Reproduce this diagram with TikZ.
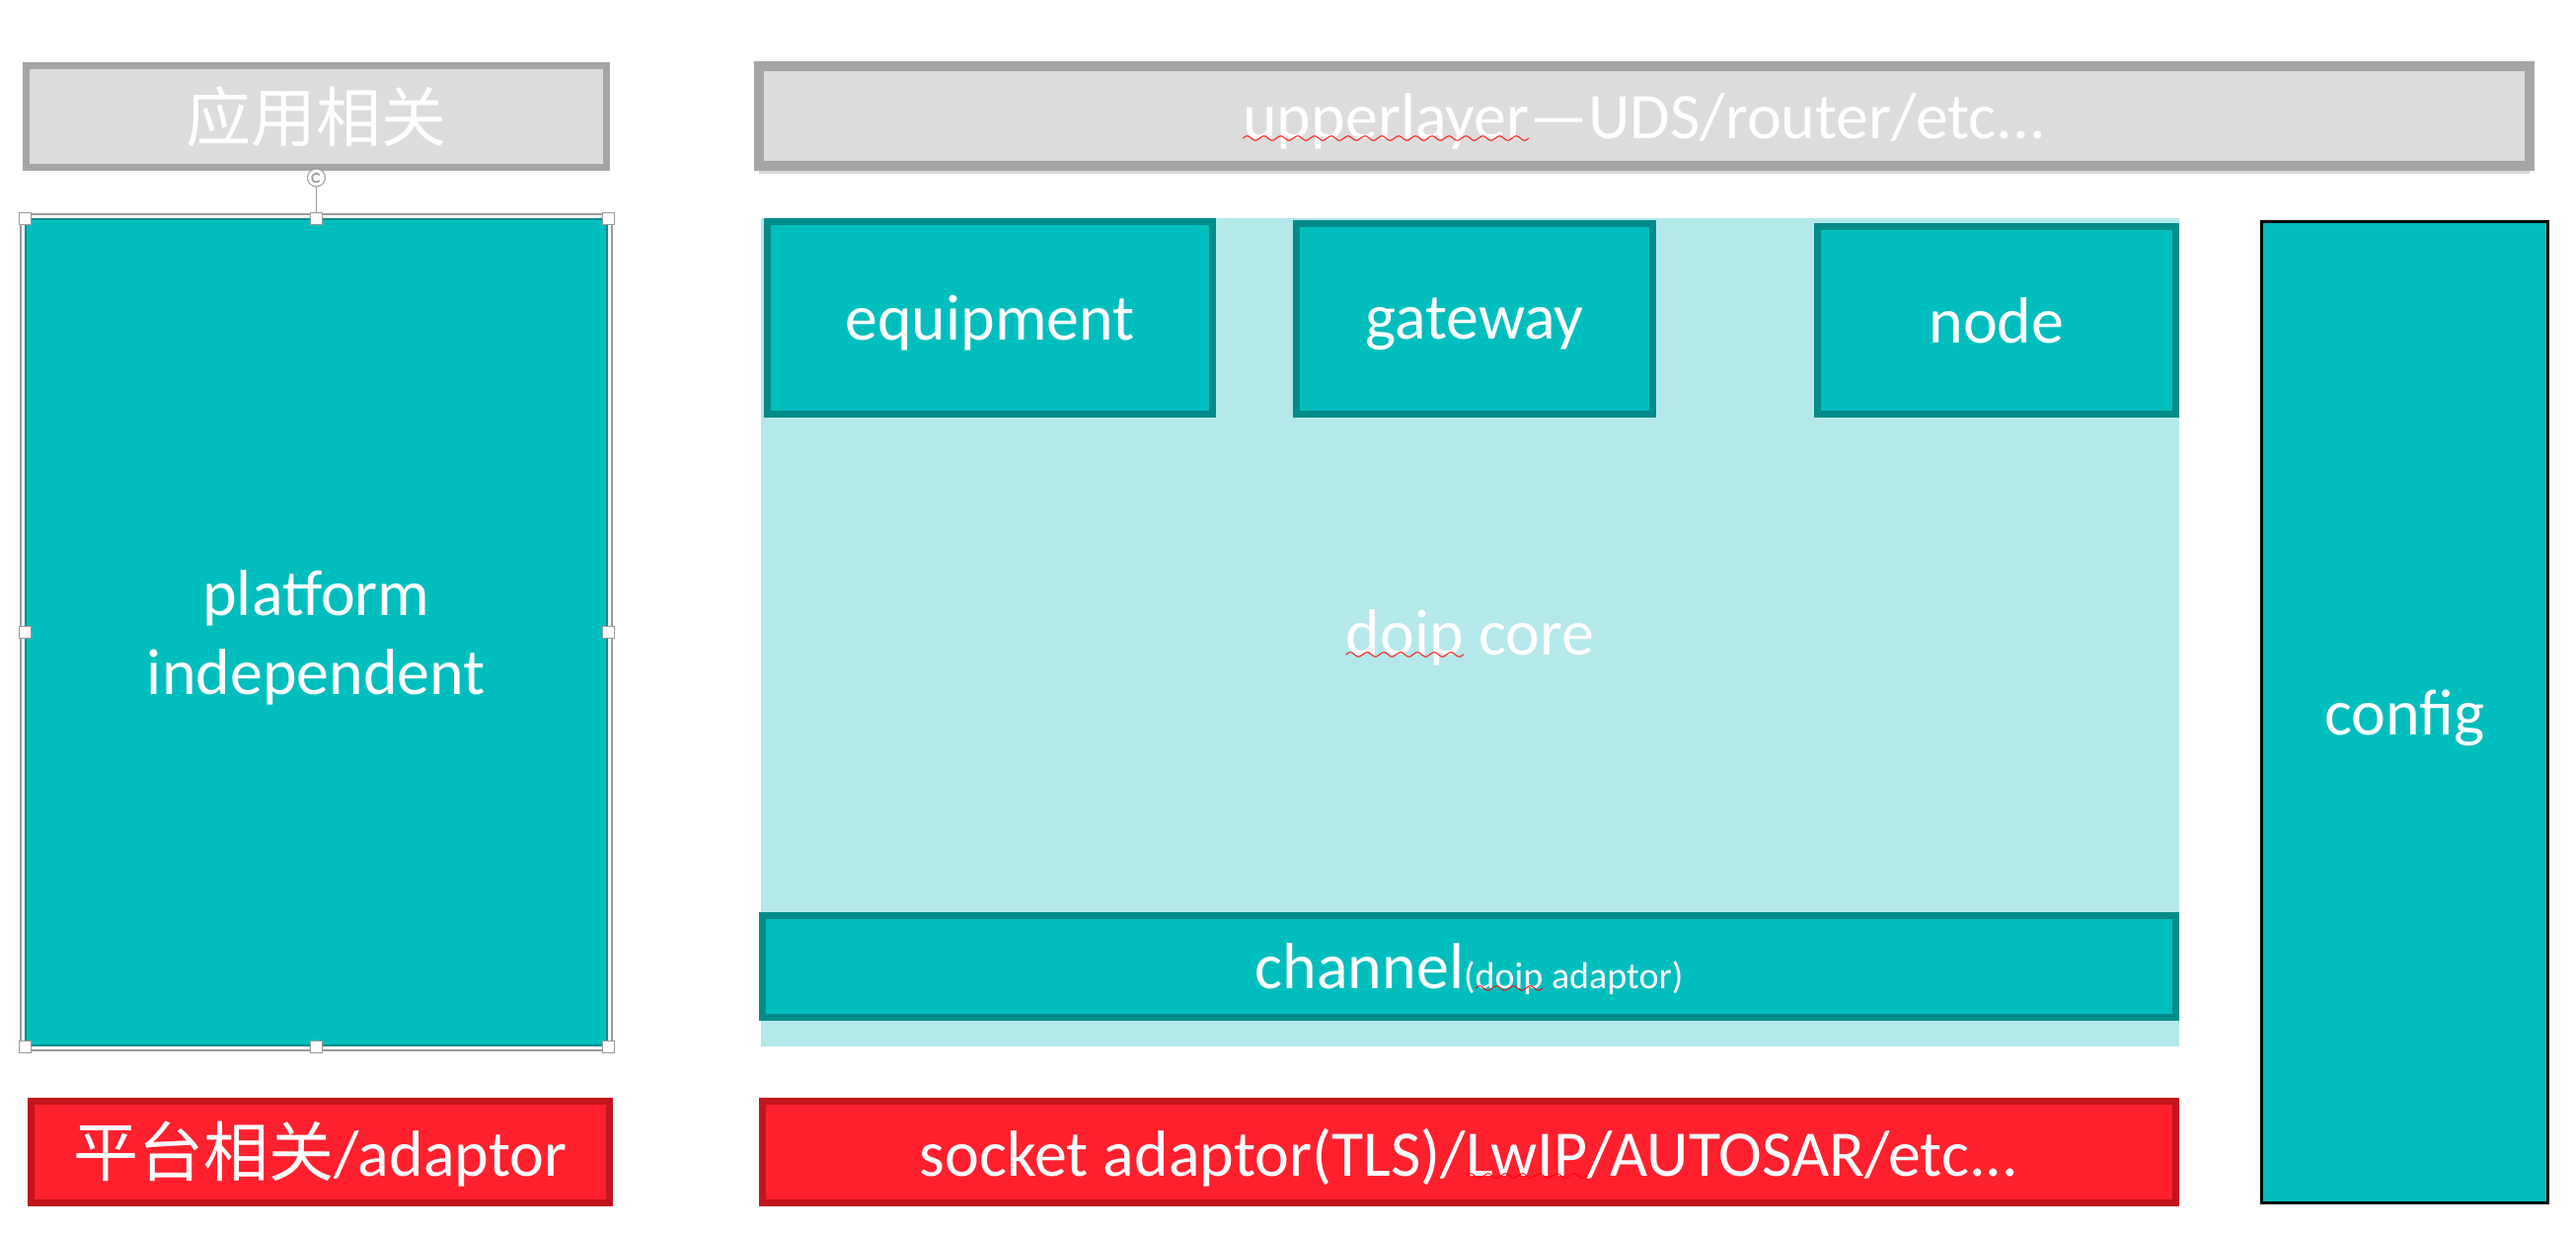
\documentclass[tikz,border=0pt]{standalone}
\usepackage{fontspec}
\setmainfont{Carlito}
\newfontfamily\cjk{Noto Sans CJK SC}
\usetikzlibrary{shadows}
\definecolor{grayfill}{HTML}{DCDCDC}
\definecolor{grayline}{HTML}{A5A5A5}
\definecolor{tealfill}{HTML}{00BEBE}
\definecolor{tealline}{HTML}{008B8A}
\definecolor{corebg}{HTML}{B4E8EA}
\definecolor{redfill}{HTML}{FF202E}
\definecolor{redline}{HTML}{C2141E}
\definecolor{squig}{HTML}{FF0000}
\definecolor{handle}{HTML}{9A9A9A}
\font\squigfont=lasy6 at 10pt
\newsavebox\spellbox
\newcommand\spell[1]{\sbox\spellbox{#1}\usebox\spellbox\llap{\lower2.5pt\hbox to \wd\spellbox{\color{squig}\xleaders\hbox{\squigfont\char58}\hfil}}}
\tikzset{
  big/.style={font=\fontsize{33}{40}\selectfont, text=white},
  flat/.style={text depth=0pt},
  graybox/.style={big, draw=grayline, fill=grayfill, line width=3.5pt},
  tealbox/.style={big, draw=tealline, fill=tealfill, line width=3.5pt},
  redbox/.style={big, draw=redline, fill=redfill, line width=3.5pt},
  corebox/.style={big, fill=corebg},
  cfgbox/.style={big, draw=black, fill=tealfill, line width=1.5pt},
  selbox/.style={draw=handle, line width=0.6pt},
  grip/.style={draw=handle, fill=white, line width=0.5pt}
}
\begin{document}
\begin{tikzpicture}[x=0.5pt,y=-0.5pt]
  \useasboundingbox (0,0) rectangle (2610,1248);

  \node[graybox, minimum width=294pt, minimum height=51.5pt] (app) at (320.5,118) {{\cjk 应用相关}};
  \node[graybox, flat, line width=5pt, drop shadow={shadow xshift=0pt, shadow yshift=-4pt, opacity=0.3},
        minimum width=897pt, minimum height=50.5pt] (upper) at (1666,117.5) {\spell{upperlayer}—UDS/router/etc...};

  \node[corebox, flat, minimum width=718.5pt, minimum height=419.5pt] (core) at (1489.5,640.5) {\spell{doip} core};
  \node[tealbox, flat, minimum width=225.5pt, minimum height=97.5pt] (equip) at (1003,322) {equipment};
  \node[tealbox, flat, minimum width=180.5pt, minimum height=96.5pt] (gateway) at (1494,323) {gateway};
  \node[tealbox, flat, minimum width=181.5pt, minimum height=95pt] (nodebox) at (2023,324.5) {node};
  \node[tealbox, flat, minimum width=716pt, minimum height=51.5pt] (channel) at (1488.5,979)
    {channel{\fontsize{19}{23}\selectfont(\spell{doip} adaptor)}};

  \node[redbox, text depth=3pt, minimum width=293pt, minimum height=51.5pt] (platadp) at (324.5,1167) {{\cjk 平台相关}/adaptor};
  \node[redbox, flat, minimum width=716pt, minimum height=51.5pt] (socket) at (1488.5,1167)
    {socket adaptor(TLS)/\spell{LwIP}/AUTOSAR/etc...};
  \node[cfgbox, flat, minimum width=145pt, minimum height=497pt] (config) at (2436.5,721.5) {config};

  \node[tealbox, flat, line width=1pt, minimum width=294.5pt, minimum height=418.5pt, align=center] (platform)
    at (320.5,640.5) {platform\\independent};
  \draw[selbox] ([shift={(-4,-4)}]platform.north west) rectangle ([shift={(4,4)}]platform.south east);
  \coordinate (rot) at (320.5,180);
  \draw[selbox] (rot) -- (platform.north);
  \draw[grip] (rot) circle (4.5pt);
  \draw[handle, line width=0.8pt] (rot) ++(40:2.2pt) arc (40:320:2.2pt);
  \foreach \p in {north west, north, north east, west, east, south west, south, south east}
    \draw[grip] ([shift={(-6,-6)}]platform.\p) rectangle ([shift={(6,6)}]platform.\p);
\end{tikzpicture}
\end{document}
